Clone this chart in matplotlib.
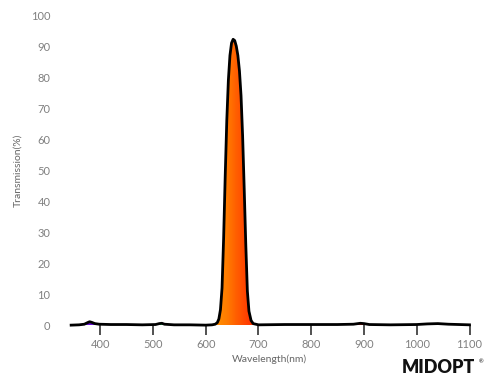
import numpy as np
import matplotlib.pyplot as plt
from matplotlib.colors import LinearSegmentedColormap
from matplotlib.patches import Polygon

plt.rcParams['font.family'] = ['Lato', 'DejaVu Sans']

# spectrum (wavelength nm, transmission %)
wavelength = [345, 360, 370, 376, 380, 384, 390, 398, 420, 450, 480, 505, 512,
              517, 522, 540, 570, 600, 612, 618, 622, 625, 628, 631, 634, 637,
              640, 643, 646, 649, 652, 655, 658, 661, 664, 667, 670, 673, 676,
              679, 682, 686, 690, 700, 750, 800, 850, 880, 893, 900, 910, 950,
              1000, 1020, 1040, 1060, 1080, 1100]
transmission = [0.0, 0.1, 0.3, 0.8, 1.1, 0.9, 0.5, 0.3, 0.2, 0.2, 0.1, 0.2, 0.5,
                0.6, 0.3, 0.1, 0.1, 0.0, 0.1, 0.3, 0.8, 2.0, 5.0, 12.0, 28.0, 48.0,
                66.0, 79.0, 87.0, 91.0, 92.2, 91.8, 90.0, 87.0, 82.0, 74.0, 61.0, 44.0, 26.0,
                11.0, 4.5, 1.5, 0.5, 0.1, 0.2, 0.2, 0.2, 0.3, 0.6, 0.5, 0.2, 0.1,
                0.2, 0.4, 0.5, 0.3, 0.2, 0.1]

x_ticks = [400, 500, 600, 700, 800, 900, 1000, 1100]
y_ticks = [0, 10, 20, 30, 40, 50, 60, 70, 80, 90, 100]

# wavelength -> colour used for the fill
spec_nm = [340, 380, 420, 460, 490, 520, 560, 580, 610, 640, 670, 700, 1100]
spec_col = ['#5a00c8', '#6a10d8', '#3020ff', '#0070ff', '#00d0ff', '#00ff40',
            '#a0ff00', '#ffff00', '#ff9800', '#ff7a00', '#ff4a00', '#ff2000', '#cc0000']
pos = [(v - spec_nm[0]) / (spec_nm[-1] - spec_nm[0]) for v in spec_nm]
cmap = LinearSegmentedColormap.from_list('spec', list(zip(pos, spec_col)))

fig = plt.figure(figsize=(5, 3.88), dpi=100)
ax = fig.add_axes([0.137, 0.162, 0.802, 0.799])
ax.set_xlim(340, 1100)
ax.set_ylim(0, 100)

# gradient fill clipped to the area under the curve
grad = np.linspace(spec_nm[0], spec_nm[-1], 800).reshape(1, -1)
im = ax.imshow(grad, extent=[spec_nm[0], spec_nm[-1], 0, 100], aspect='auto',
               cmap=cmap, origin='lower', zorder=1)
verts = [(wavelength[0], 0)] + list(zip(wavelength, transmission)) + [(wavelength[-1], 0)]
poly = Polygon(verts, closed=True, facecolor='none', edgecolor='none')
ax.add_patch(poly)
im.set_clip_path(poly)

ax.plot(wavelength, transmission, color='black', lw=2, zorder=3, clip_on=False,
        solid_joinstyle='round')

for s in ax.spines.values():
    s.set_visible(False)
ax.set_xticks(x_ticks)
ax.set_yticks(y_ticks)
ax.tick_params(axis='x', length=7, width=1.2, color='#333333', pad=3,
               labelsize=8, labelcolor='#808080')
ax.tick_params(axis='y', length=0, pad=13, labelsize=8, labelcolor='#808080')
ax.set_xlabel('Wavelength(nm)', fontsize=7.5, color='#666666', labelpad=3)
ax.set_ylabel('Transmission(%)', fontsize=7.5, color='#666666', labelpad=6)

fig.text(0.876, 0.052, 'MIDOPT', fontsize=13, fontweight='heavy', color='#111111',
         ha='center', va='center')
fig.text(0.962, 0.068, '®', fontsize=4, color='#111111', ha='center', va='center')

fig.savefig('out.png', dpi=100)
